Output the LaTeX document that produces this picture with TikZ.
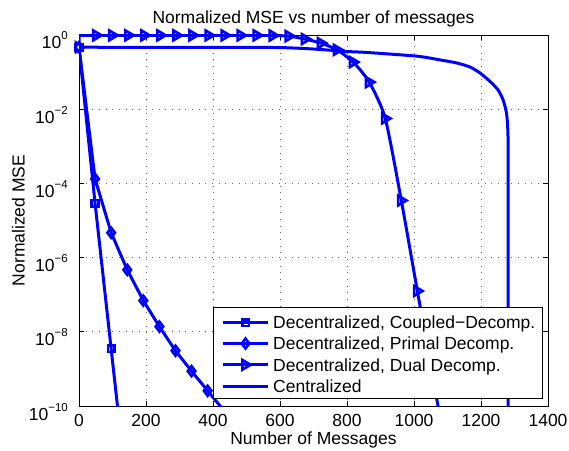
\documentclass[tikz,border=0pt]{standalone}
\usepackage{fontspec}
\setmainfont{Liberation Sans}
\definecolor{curveblue}{RGB}{0,0,255}
\definecolor{gridgray}{RGB}{105,105,105}
\newcommand{\tenexp}[1]{10\raisebox{9pt}{\fontsize{11.5}{12}\selectfont #1}}

\begin{document}
\begin{tikzpicture}[
  font=\fontsize{17.5}{21}\selectfont,
  axisframe/.style={draw=black, line width=0.75pt},
  gridline/.style={draw=gridgray, line width=0.7pt, dash pattern=on 0.7pt off 5.95pt},
  curve/.style={draw=curveblue, line width=3pt, line join=round},
  mk/.style={draw=curveblue, line width=2.6pt, line join=miter},
  sqmark/.pic={\draw[mk] (-3.3pt,-3.3pt) rectangle (3.3pt,3.3pt);},
  dmmark/.pic={\draw[mk] (0,5pt) -- (3.75pt,0) -- (0,-5pt) -- (-3.75pt,0) -- cycle;},
  trmark/.pic={\draw[mk] (5.2pt,0) -- (-3.2pt,4.9pt) -- (-3.2pt,-4.9pt) -- cycle;},
  ticklabel/.style={inner sep=0pt},
  legendbox/.style={draw=black, fill=white, line width=0.75pt, minimum width=329pt, minimum height=91pt, inner sep=0pt}
]
\fill[white] (0,0) rectangle (569pt,450pt);
\useasboundingbox (0,0) rectangle (569pt,450pt);

% data frame: x = messages, y = log10(MSE)
\begin{scope}[shift={(79pt,415pt)}, x=0.335pt, y=37.1pt]
  \foreach \m in {200,400,...,1200}
    \draw[gridline] (\m,-10) -- (\m,0);
  \foreach \d in {-2,-4,-6,-8}
    \draw[gridline] (0,\d) -- (1400,\d);
  \draw[axisframe] (0,0) rectangle (1400,-10);
  \foreach \m in {200,400,...,1200} {
    \draw[axisframe] (\m,-10) -- ++(0,5pt);
    \draw[axisframe] (\m,0) -- ++(0,-5pt);
  }
  \foreach \d in {-2,-4,-6,-8} {
    \draw[axisframe] (0,\d) -- ++(5pt,0);
    \draw[axisframe] (1400,\d) -- ++(-5pt,0);
  }
  \foreach \m in {0,200,...,1400}
    \node[ticklabel, anchor=base] (xt\m) at ([yshift=-20.5pt]\m,-10) {\m};
  \foreach \k in {0,2,...,10}
    \node[ticklabel, anchor=base east] (yt\k) at ([xshift=-11pt,yshift=-14pt]0,-\k)
      {\tenexp{\ifnum\k=0 0\else −\k\fi}};

  \begin{scope}
    \clip (0,0) rectangle (1400,-10);
    % centralized
    \draw[curve] plot[smooth, tension=0.4] coordinates {(0,-0.33) (550,-0.335) (650,-0.355)
      (720,-0.39) (800,-0.445) (858,-0.47) (1008,-0.57) (1077,-0.67) (1128,-0.755)
      (1167,-0.863) (1197,-1.024) (1227,-1.253) (1251,-1.482) (1266,-1.752)
      (1276,-2.10) (1280,-2.56) (1281,-3.5) (1281,-10.5)};
    % dual decomposition
    \draw[curve] (0,-0.33) -- (0,-0.01) -- (531,-0.01) -- plot[smooth, tension=0.4] coordinates {
      (531,-0.01) (578.9,-0.015) (626.8,-0.03) (674.7,-0.11) (722.6,-0.22) (770.5,-0.40)
      (818.4,-0.73) (866.3,-1.27) (914.2,-2.25) (962.1,-4.46) (1010,-6.90) (1071.6,-10)
      (1080,-10.45)};
    % primal decomposition
    \draw[curve] (0,-0.33) -- (48,-3.88) -- (96,-5.33) -- (144,-6.33) -- (192,-7.16)
      -- (240,-7.86) -- (288,-8.51) -- (336,-9.06) -- (384,-9.59) -- (432,-10.12);
    % coupled decomposition
    \draw[curve] (0,-0.33) -- (48,-4.54) -- (96,-8.46) -- (144,-12.38);
  \end{scope}

  \foreach \p in {(0,-0.33),(52,-0.01),(99.9,-0.01),(147.8,-0.01),(195.7,-0.01),(243.6,-0.01),
      (291.5,-0.01),(339.4,-0.01),(387.3,-0.01),(435.2,-0.01),(483.1,-0.01),(531,-0.01),
      (578.9,-0.015),(626.8,-0.03),(674.7,-0.11),(722.6,-0.22),(770.5,-0.40),(818.4,-0.73),
      (866.3,-1.27),(914.2,-2.25),(962.1,-4.46),(1010,-6.90)}
    \pic at \p {trmark};
  \foreach \p in {(0,-0.33),(48,-3.88),(96,-5.33),(144,-6.33),(192,-7.16),(240,-7.86),
      (288,-8.51),(336,-9.06),(384,-9.59)}
    \pic at \p {dmmark};
  \foreach \p in {(0,-0.33),(48,-4.54),(96,-8.46)}
    \pic at \p {sqmark};
\end{scope}

\node[anchor=base] (title) at (313.5pt,426.5pt) {Normalized MSE vs number of messages};
\node[anchor=base] (xlabel) at (313.5pt,5.5pt) {Number of Messages};
\node[anchor=base, rotate=90] (ylabel) at (24.5pt,229.5pt) {Normalized MSE};

% legend
\node[legendbox] (legend) at (377.5pt,97.5pt) {};
\foreach \yy/\mk/\txt in {127.5/sqmark/{Decentralized, Coupled−Decomp.},
    106.5/dmmark/{Decentralized, Primal Decomp.},
    85.2/trmark/{Decentralized, Dual Decomp.}} {
  \draw[curve] (222.7pt,\yy pt) -- (268.3pt,\yy pt);
  \pic at (245.5pt,\yy pt) {\mk};
  \node[anchor=base west, inner sep=0pt] (entry\mk) at (273pt,\yy pt-6.3pt) {\txt};
}
\draw[curve] (222.7pt,64pt) -- (268.3pt,64pt);
\node[anchor=base west, inner sep=0pt] (entrycent) at (273pt,57.7pt) {Centralized};
\end{tikzpicture}
\end{document}
